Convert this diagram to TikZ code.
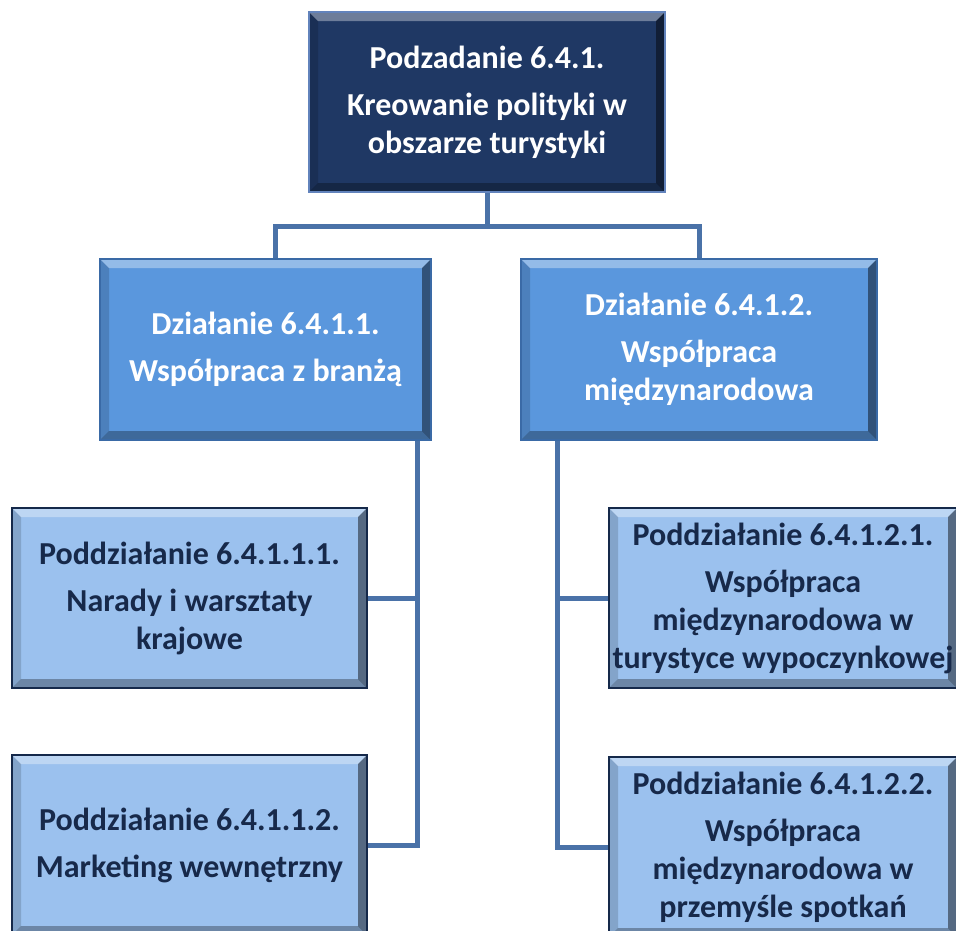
\documentclass[tikz,border=0pt]{standalone}
\usepackage{fontspec}
\setmainfont{Carlito}
\usetikzlibrary{positioning}

\definecolor{navy}{HTML}{1F3864}
\definecolor{navyedge}{HTML}{6283BC}
\definecolor{midblue}{HTML}{5A97DD}
\definecolor{midedge}{HTML}{3A6AA6}
\definecolor{lightblue}{HTML}{9BC1EE}
\definecolor{subedge}{HTML}{15294A}
\definecolor{subtext}{HTML}{17294A}
\definecolor{linkblue}{HTML}{4A72A8}

\def\ppb{path picture bounding box}
\tikzset{
  bevel/.style={path picture={
    \fill[white, opacity=.35] (\ppb.north west) -- (\ppb.north east) -- ([shift={(-9pt,-9pt)}]\ppb.north east) -- ([shift={(9pt,-9pt)}]\ppb.north west) -- cycle;
    \fill[black, opacity=.15] (\ppb.north west) -- ([shift={(9pt,-9pt)}]\ppb.north west) -- ([shift={(9pt,9pt)}]\ppb.south west) -- (\ppb.south west) -- cycle;
    \fill[black, opacity=.45] (\ppb.north east) -- ([shift={(-9pt,-9pt)}]\ppb.north east) -- ([shift={(-9pt,9pt)}]\ppb.south east) -- (\ppb.south east) -- cycle;
    \fill[black, opacity=.3] (\ppb.south west) -- ([shift={(9pt,9pt)}]\ppb.south west) -- ([shift={(-9pt,9pt)}]\ppb.south east) -- (\ppb.south east) -- cycle;
  }},
  box/.style={rectangle, align=center, inner sep=0pt, line width=2.5pt,
    font=\fontsize{32}{38}\selectfont\bfseries, bevel},
  topbox/.style={box, fill=navy, draw=navyedge, text=white, minimum width=356pt, minimum height=180pt},
  midbox/.style={box, fill=midblue, draw=midedge, text=white, minimum height=181pt},
  subbox/.style={box, fill=lightblue, draw=subedge, text=subtext, minimum height=180pt},
  link/.style={draw=linkblue, line width=5pt},
}

\begin{document}
\begin{tikzpicture}[x=1pt, y=-1pt]
\useasboundingbox (0,0) rectangle (956,930);
\clip (0,0) rectangle (956,930);

\node[topbox] (zad) at (487,102) {Podzadanie 6.4.1.\\[9pt] Kreowanie polityki w\\ obszarze turystyki};

\node[midbox, minimum width=331pt] (dzl) at (265.5,349.5) {Działanie 6.4.1.1.\\[9pt] Współpraca z branżą};
\node[midbox, minimum width=356pt] (dzr) at (699,349.5) {Działanie 6.4.1.2.\\[9pt] Współpraca\\ międzynarodowa};

\node[subbox, minimum width=355pt] (pdl1) at (189.5,598) {Poddziałanie 6.4.1.1.1.\\[9pt] Narady i warsztaty\\ krajowe};
\node[subbox, minimum width=355pt] (pdl2) at (189.5,845) {Poddziałanie 6.4.1.1.2.\\[9pt] Marketing wewnętrzny};
\node[subbox, minimum width=348pt] (pdr1) at (783,598) {Poddziałanie 6.4.1.2.1.\\[9pt] Współpraca\\ międzynarodowa w\\ turystyce wypoczynkowej};
\node[subbox, minimum width=348pt] (pdr2) at (783,847) {Poddziałanie 6.4.1.2.2.\\[9pt] Współpraca\\ międzynarodowa w\\ przemyśle spotkań};

% connectors
\coordinate (split) at ([yshift=-33pt]zad.south);
\coordinate (lbus) at ([xshift=-15pt]dzl.south east);
\coordinate (rbus) at ([xshift=38pt]dzr.south west);

\draw[link] (zad.south) -- (split);
\draw[link] (split) -| ([xshift=10pt]dzl.north);
\draw[link] (split) -| (dzr.north);
\draw[link] (lbus) |- (pdl2.east);
\draw[link] (pdl1.east) -- (pdl1.east -| lbus);
\draw[link] (rbus) |- (pdr2.west);
\draw[link] (pdr1.west) -- (pdr1.west -| rbus);
\end{tikzpicture}
\end{document}
